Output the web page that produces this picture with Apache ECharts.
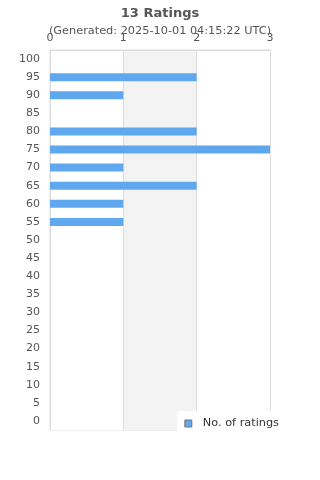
<!DOCTYPE html>
<html>
<head>
<meta charset="utf-8">
<script src="https://cdn.jsdelivr.net/npm/echarts@6/dist/echarts.min.js"></script>
<style>
html, body { margin: 0; padding: 0; background: #fff; }
#main { width: 320px; height: 480px; }
</style>
</head>
<body>
<div id="main"></div>
<script>
// rating buckets, bottom to top
var ratings = ['0','5','10','15','20','25','30','35','40','45','50','55','60','65','70','75','80','85','90','95','100'];
var counts  = [0,0,0,0,0,0,0,0,0,0,0,1,1,2,1,3,2,0,1,2,0];
var seriesName = 'No. of ratings';

var chart = echarts.init(document.getElementById('main'));

var option = {
	animation: false,
	textStyle: { fontFamily: 'DejaVu Sans' },
	title: {
		text: '13 Ratings',
		subtext: '(Generated: 2025-10-01 04:15:22 UTC)',
		left: 'center',
		top: 2,
		itemGap: 6,
		textStyle: { fontSize: 13, fontWeight: 'bold', color: '#555' },
		subtextStyle: { fontSize: 11.3, color: '#555' }
	},
	legend: {
		data: [seriesName],
		right: 34,
		bottom: 46,
		backgroundColor: '#fff',
		padding: [7, 7, 5, 7],
		itemWidth: 7,
		itemHeight: 7,
		icon: 'rect',
		itemStyle: { borderColor: '#777', borderWidth: 1 },
		textStyle: { fontSize: 11.3, color: '#333', padding: [0, 0, 0, 6] }
	},
	grid: {
		left: 50, right: 50, top: 50, bottom: 50,
		show: true,
		borderColor: '#ddd',
		borderWidth: 1
	},
	xAxis: {
		type: 'value',
		position: 'top',
		min: 0, max: 3, interval: 1,
		axisLine: { show: true, lineStyle: { color: '#ddd' } },
		axisTick: { show: false },
		axisLabel: { fontSize: 11, color: '#555', margin: 6 },
		splitLine: { show: true, lineStyle: { color: '#ddd' } },
		splitArea: { show: true, areaStyle: { color: ['#fff', '#f3f3f3'] } }
	},
	yAxis: {
		type: 'category',
		data: ratings,
		axisLine: { show: true, lineStyle: { color: '#ddd' } },
		axisTick: { show: false },
		axisLabel: { fontSize: 11, color: '#555', margin: 10, padding: [2, 0, 0, 0] }
	},
	series: [{
		name: seriesName,
		type: 'bar',
		data: counts,
		barWidth: 8,
		itemStyle: { color: '#5fa8f0' }
	}]
};

chart.setOption(option);
</script>
</body>
</html>
